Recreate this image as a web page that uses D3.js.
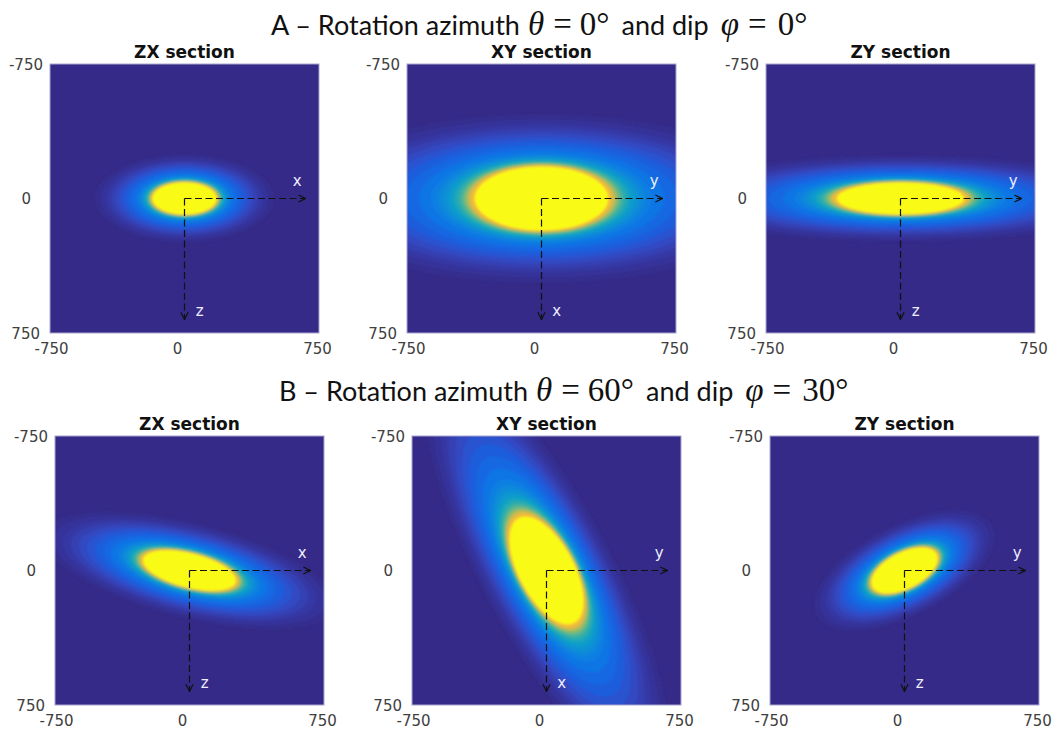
<!DOCTYPE html>
<html><head><meta charset="utf-8">
<script src="https://cdnjs.cloudflare.com/ajax/libs/d3/7.8.5/d3.min.js"></script>
<style>html,body{margin:0;padding:0;background:#fff}svg{display:block}</style>
</head><body><svg id="c" width="1052" height="729"></svg>
<script>
// --- data (all lengths in section units, -750..750) ---
const tickValues = [-750, 0, 750];
const rowTitles = [
  {letter:"A", theta:"0", phi:"0"},
  {letter:"B", theta:"60", phi:"30"}
];
const sectionNames = ["ZX section","XY section","ZY section"];
const axisLabelsX = ["x","y","y","x","y","y"];
const axisLabelsZ = ["z","x","z","z","x","z"];
// per panel: outer contour semi-axes, yellow core semi-axes, tilt on screen (degrees)
const semiMajor = [500, 1350, 1300, 840, 1280, 550];
const semiMinor = [245, 470, 240, 265, 365, 255];
const coreMajor = [178, 372, 354, 265, 330, 200];
const coreMinor = [89, 178, 89, 95, 154, 100];
const tilt      = [0, 0, 0, 14, 62, -27];
// contour levels: position between outer contour (1) and core (0), with colour
const levelRadius = [1.00,.90,.80,.72,.64,.56,.48,.40,.32,.25,.21,.18,.15,.125,.105,.085,.07,.058,.047,.037,.027,.015,0];
const levelColour = ["#352d8e","#36339a","#3539a4","#3440b2","#3049c2","#2b53d0","#1f5ddc","#1768e2","#1074e4","#0a7fe2","#0a88da","#0a92d4","#0e9ccb","#18a5bf","#2aacae","#45b29c","#63b788","#85ba73","#a8bb5f","#c8ba50","#e6b942","#f7bd38","#f9fa14"];

const background = "#352a87";
const rows = [{top:64, lefts:[50,407,766], size:269},{top:436, lefts:[55,412,770], size:269}];

const svg = d3.select("#c");
const defs = svg.append("defs");
defs.append("filter").attr("id","soft").attr("x","-5%").attr("y","-5%").attr("width","110%").attr("height","110%")
  .append("feGaussianBlur").attr("stdDeviation",1.2);
defs.append("marker").attr("id","arrow").attr("viewBox","0 0 10 10").attr("refX",9).attr("refY",5)
  .attr("markerWidth",9).attr("markerHeight",9).attr("markerUnits","userSpaceOnUse").attr("orient","auto")
  .append("path").attr("d","M1,1 L9,5 L1,9").attr("fill","none").attr("stroke","#111").attr("stroke-width",1.3);

const tickDx = d3.scaleOrdinal().domain(tickValues).range([1,-7.5,-2]);
const tickRight = d3.scaleOrdinal().domain(tickValues).range([-7,-19,-10]);
const thetas = d3.range(0, 2*Math.PI, Math.PI/90);
const font = "'DejaVu Sans',sans-serif";

let idx = 0;
rows.forEach((row,r)=>{
  row.lefts.forEach((left,c)=>{
    const i = idx++;
    const x = d3.scaleLinear().domain([-750,750]).range([left,left+row.size]);
    const y = d3.scaleLinear().domain([-750,750]).range([row.top,row.top+row.size]);
    const g = svg.append("g");
    const clipId = "clip"+i;
    defs.append("clipPath").attr("id",clipId).append("rect")
      .attr("x",left).attr("y",row.top).attr("width",row.size).attr("height",row.size);
    const plot = g.append("g").attr("clip-path",`url(#${clipId})`);
    plot.append("rect").attr("x",left).attr("y",row.top).attr("width",row.size).attr("height",row.size).attr("fill",background);
    const rot = tilt[i]*Math.PI/180;
    const major = d3.scaleLinear().domain([0,1]).range([coreMajor[i],semiMajor[i]]);
    const minor = d3.scaleLinear().domain([0,1]).range([coreMinor[i],semiMinor[i]]);
    const line = d3.line().x(d=>x(d[0])).y(d=>y(d[1])).curve(d3.curveLinearClosed);
    plot.append("g").attr("filter","url(#soft)").selectAll("path").data(levelRadius).join("path")
      .attr("fill",(d,k)=>levelColour[k])
      .attr("d",f=>line(thetas.map(t=>{
        const u=major(f)*Math.cos(t), v=minor(f)*Math.sin(t);
        return [u*Math.cos(rot)-v*Math.sin(rot), u*Math.sin(rot)+v*Math.cos(rot)];
      })));
    g.append("rect").attr("x",left).attr("y",row.top).attr("width",row.size).attr("height",row.size)
      .attr("fill","none").attr("stroke","#a9a6cf").attr("stroke-width",1);

    // axes
    const ax = g.append("g").attr("transform",`translate(0,${row.top+row.size+10})`)
      .call(d3.axisBottom(x).tickValues(tickValues).tickSize(0).tickPadding(0).tickFormat(String));
    ax.select(".domain").remove();
    ax.selectAll("text").attr("dx",d=>tickDx(d)).attr("dy","0.72em");
    const ay = g.append("g").attr("transform",`translate(${left},0)`)
      .call(d3.axisLeft(y).tickValues(tickValues).tickSize(0).tickPadding(0).tickFormat(String));
    ay.select(".domain").remove();
    ay.selectAll("text").attr("dx",d=>tickRight(d)).attr("dy","0.36em");
    g.selectAll(".tick text").attr("font-family",font).attr("font-size",15).attr("fill","#404040");

    // section title
    g.append("text").attr("x",x(0)).attr("y",row.top-7).attr("dy",1).attr("text-anchor","middle")
      .attr("font-family",font).attr("font-weight","bold").attr("font-size",17).attr("fill","#111").text(sectionNames[c]);

    // local axes arrows
    const reach = 675;
    [[reach,0],[0,reach]].forEach(e=>{
      g.append("line").attr("x1",x(0)).attr("y1",y(0)).attr("x2",x(e[0])).attr("y2",y(e[1]))
        .attr("stroke","#111").attr("stroke-width",1.2).attr("stroke-dasharray","7 3.5").attr("marker-end","url(#arrow)");
    });
    g.append("text").attr("x",x(628)).attr("y",y(-68)).attr("text-anchor","middle").attr("font-family",font)
      .attr("font-size",15).attr("fill","#eef").text(axisLabelsX[i]);
    g.append("text").attr("x",x(85)).attr("y",y(657)).attr("text-anchor","middle").attr("font-family",font)
      .attr("font-size",15).attr("fill","#eef").text(axisLabelsZ[i]);
  });
});

// row headings
const headY = [35, 401], headX = [271, 279];
rowTitles.forEach((h,i)=>{
  const t = svg.append("text").attr("x",headX[i]).attr("y",headY[i]).attr("font-family","Lato,'Open Sans',sans-serif").attr("font-size",27).attr("fill","#111");
  const m = "'Liberation Serif',serif", ms = 33;
  t.append("tspan").text(`${h.letter} – Rotation azimuth`);
  t.append("tspan").attr("font-family",m).attr("font-size",ms).attr("font-style","italic").attr("dx",8).text("θ");
  t.append("tspan").attr("font-family",m).attr("font-size",ms).attr("dx",9).text("=");
  t.append("tspan").attr("font-family",m).attr("font-size",ms).attr("dx",8).text(`${h.theta}°`);
  t.append("tspan").attr("dx",12).text("and dip");
  t.append("tspan").attr("font-family",m).attr("font-size",ms).attr("font-style","italic").attr("dx",12).text("φ");
  t.append("tspan").attr("font-family",m).attr("font-size",ms).attr("dx",9).text("=");
  t.append("tspan").attr("font-family",m).attr("font-size",ms).attr("dx",11).text(`${h.phi}°`);
});
</script></body></html>
